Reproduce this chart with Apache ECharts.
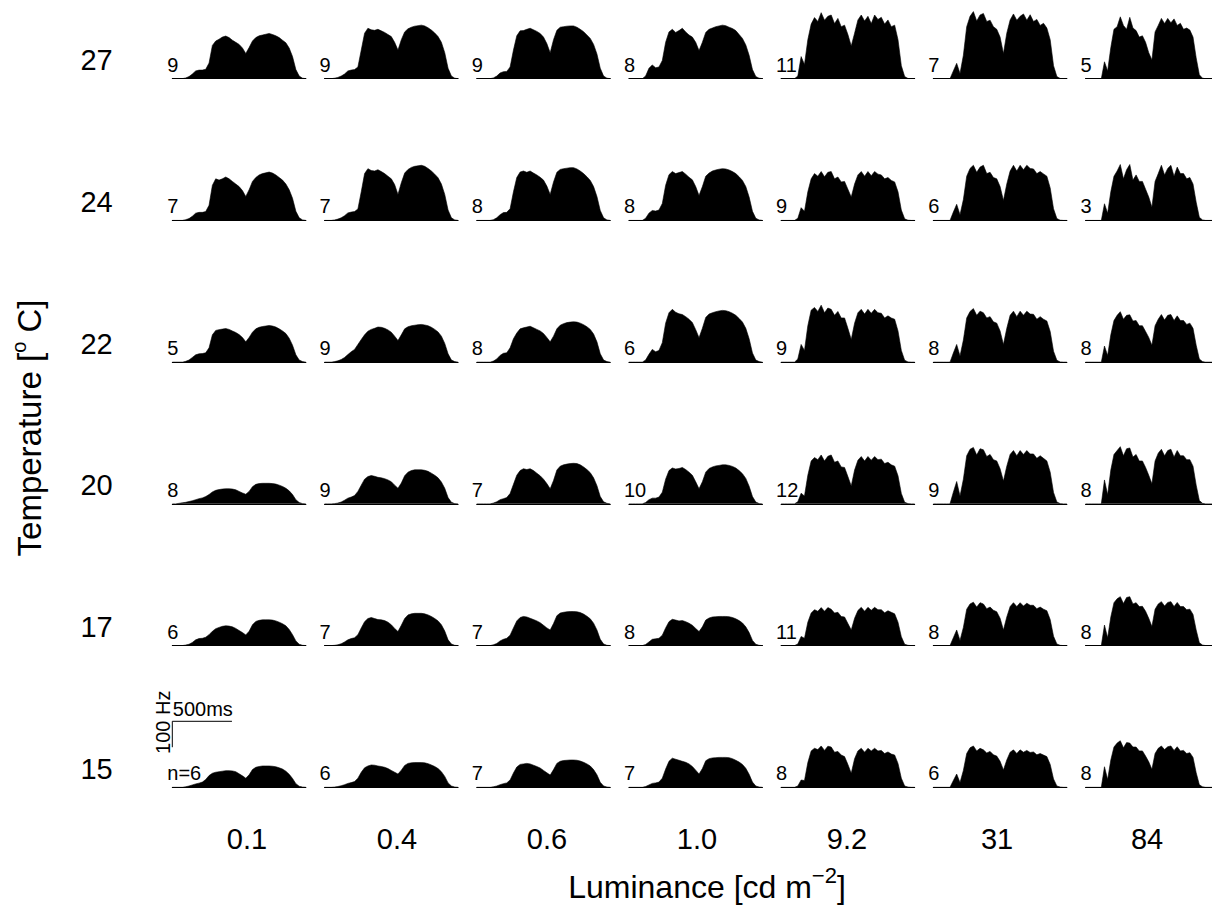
<!DOCTYPE html>
<html>
<head>
<meta charset="utf-8">
<script src="https://cdn.jsdelivr.net/npm/echarts@6/dist/echarts.min.js"></script>
<style>
  html, body { margin: 0; padding: 0; background: #ffffff; }
  #chart { width: 1212px; height: 905px; }
</style>
</head>
<body>
<div id="chart"></div>
<script>
// Peri-stimulus firing rate (Hz) in 28 ms bins over a 1120 ms window,
// one panel per temperature (rows) x luminance (columns).
const luminance = ['0.1', '0.4', '0.6', '1.0', '9.2', '31', '84'];
const temperature = ['27', '24', '22', '20', '17', '15'];
const binMs = 28;
const windowMs = 1120;
const scaleBarMs = 500;
const scaleBarHz = 100;

// number of recorded units per panel
const cells27 = [9, 9, 9, 8, 11, 7, 5];
const cells24 = [7, 7, 8, 8, 9, 6, 3];
const cells22 = [5, 9, 8, 6, 9, 8, 8];
const cells20 = [8, 9, 7, 10, 12, 9, 8];
const cells17 = [6, 7, 7, 8, 11, 8, 8];
const cells15 = [6, 6, 7, 7, 8, 6, 8];

const rate27 = [
  [0,0,0,0,3,8,18,30,33,33,36,60,128,145,152,160,164,158,148,140,132,118,97,120,145,158,165,168,171,174,170,165,158,148,138,118,85,35,10,2,0],
  [0,0,0,2,5,10,18,30,33,35,45,110,175,194,188,186,190,184,178,170,162,140,110,150,180,192,198,202,204,206,203,196,187,176,162,140,100,40,10,2,0],
  [0,0,0,0,0,3,10,22,27,28,45,110,165,184,185,190,194,188,182,174,160,135,100,150,186,198,200,202,203,203,198,190,181,168,155,132,95,40,10,2,0],
  [0,0,0,0,0,10,40,53,42,45,70,140,180,190,178,185,194,180,168,160,140,108,140,178,190,195,200,203,206,204,198,193,185,170,155,130,90,35,8,2,0],
  [0,0,0,0,0,10,85,55,150,210,235,220,254,225,240,245,212,232,200,206,170,126,175,226,245,222,240,212,245,228,236,210,226,200,206,150,50,8,1,0,0],
  [0,0,0,0,0,0,30,59,20,90,200,240,258,222,245,251,220,225,200,190,160,97,175,226,249,225,240,249,225,246,220,228,205,213,195,150,50,8,1,0,0],
  [0,0,0,0,0,0,65,30,120,190,200,238,205,190,236,195,185,160,165,140,100,72,180,205,232,212,232,215,230,205,213,190,195,187,160,80,15,2,0,0,0]
];
const rate24 = [
  [0,0,0,0,3,7,16,28,31,31,34,58,135,160,155,160,167,160,150,140,130,115,92,118,150,165,175,180,183,186,182,175,165,155,140,118,85,35,10,2,0],
  [0,0,0,2,5,10,18,29,32,34,44,110,180,199,192,190,195,188,180,170,160,138,100,145,182,196,204,208,210,212,208,200,190,178,164,140,100,40,10,2,0],
  [0,0,0,0,0,3,10,22,30,31,45,110,165,186,190,185,190,182,175,166,155,132,100,148,185,196,199,201,203,203,198,190,180,168,154,130,92,38,10,2,0],
  [0,0,0,0,0,8,28,38,36,40,65,135,176,188,180,184,188,178,166,156,130,96,130,170,182,190,194,197,199,198,194,188,180,168,154,130,90,35,8,2,0],
  [0,0,0,0,0,8,49,35,110,160,180,170,188,168,185,188,160,167,148,150,120,90,140,175,188,170,188,172,188,178,175,160,165,154,148,110,40,6,1,0,0],
  [0,0,0,0,0,0,32,62,22,80,170,200,212,185,205,212,180,185,165,160,130,77,140,190,212,190,212,195,212,200,198,180,188,179,170,125,45,7,1,0,0],
  [0,0,0,0,0,0,64,28,110,170,190,215,160,195,215,155,175,150,150,120,90,51,150,180,212,175,200,212,170,205,180,180,160,165,140,70,12,2,0,0,0]
];
const rate22 = [
  [0,0,0,0,3,8,18,28,32,33,36,55,105,122,125,127,129,126,120,114,106,95,78,95,115,128,134,137,139,141,139,135,128,120,110,92,65,28,8,2,0],
  [0,0,0,2,5,10,18,29,40,49,68,87,105,119,126,130,135,134,130,124,115,100,83,105,128,136,140,142,144,145,143,140,134,126,116,100,72,32,8,2,0],
  [0,0,0,0,0,4,12,26,34,36,55,90,112,128,132,135,138,132,126,120,110,95,78,100,128,142,148,152,154,155,154,150,144,136,126,108,78,32,8,2,0],
  [0,0,0,0,0,8,30,49,40,45,75,150,190,203,192,186,183,175,165,152,125,94,130,172,185,190,194,197,199,198,194,188,180,168,154,130,90,35,8,2,0],
  [0,0,0,0,0,12,68,45,140,200,210,195,219,190,208,203,180,195,170,170,130,87,150,190,203,185,203,188,203,190,188,170,178,170,165,120,45,7,1,0,0],
  [0,0,0,0,0,0,35,68,24,85,170,195,206,180,196,190,170,175,155,150,120,68,130,180,196,175,196,180,196,185,184,165,175,165,158,118,42,7,1,0,0],
  [0,0,0,0,0,0,62,26,105,160,180,194,165,180,182,158,160,140,140,118,95,65,140,165,183,162,180,183,160,178,160,160,145,150,130,65,12,2,0,0,0]
];
const rate20 = [
  [0,0,2,4,6,9,12,16,20,23,28,36,46,52,55,57,58,58,57,54,48,42,37,48,66,75,78,79,79,79,78,76,72,67,60,50,36,16,5,1,0],
  [0,0,0,1,3,7,14,22,26,32,48,72,95,105,109,106,102,100,97,92,85,72,60,80,108,122,128,131,131,131,129,125,118,110,100,84,60,24,6,1,0],
  [0,0,0,0,0,3,8,16,20,24,40,75,110,128,135,132,135,128,118,108,95,78,58,90,130,145,150,153,155,156,155,150,142,132,120,100,70,28,8,2,0],
  [0,0,0,0,0,5,16,22,22,26,45,95,128,138,134,136,140,132,122,110,85,58,85,122,136,142,146,148,150,150,148,144,138,128,116,98,68,28,7,1,0],
  [0,0,0,0,0,8,41,30,110,165,178,170,188,165,183,188,160,165,142,140,105,69,130,168,182,165,182,168,182,170,172,155,160,150,145,108,40,6,1,0,0],
  [0,0,0,0,0,0,45,86,30,95,185,210,217,188,212,208,182,190,170,165,135,88,145,190,205,185,205,190,205,192,192,175,185,175,165,122,44,7,1,0,0],
  [0,0,0,0,0,0,92,35,130,190,205,220,185,212,215,180,190,165,165,140,110,77,165,195,210,185,205,210,180,205,185,185,170,170,145,72,13,2,0,0,0]
];
const rate17 = [
  [0,0,0,0,2,5,12,22,27,28,32,42,55,65,70,74,76,75,72,66,58,50,41,55,80,93,97,99,99,99,98,95,90,84,76,62,42,18,5,1,0],
  [0,0,0,1,3,7,14,22,27,30,42,68,92,104,108,104,100,99,96,90,80,66,54,78,104,118,122,124,124,124,122,118,112,104,95,80,56,22,6,1,0],
  [0,0,0,0,0,3,8,18,24,28,40,68,95,108,112,110,105,100,95,88,78,68,60,85,115,125,128,130,131,131,130,127,121,113,103,86,60,24,6,1,0],
  [0,0,0,0,0,4,14,24,26,28,40,68,92,101,98,95,96,92,86,78,66,54,72,98,106,110,111,112,112,112,111,108,103,96,87,72,50,20,5,1,0],
  [0,0,0,0,0,6,35,28,90,125,138,132,146,132,146,140,125,128,112,110,85,60,105,135,147,132,147,136,147,138,138,126,134,128,122,90,34,5,1,0,0],
  [0,0,0,0,0,0,30,60,20,70,140,160,167,148,165,160,142,148,136,130,105,60,110,150,165,150,165,152,163,155,155,142,148,140,134,100,36,6,1,0,0],
  [0,0,0,0,0,0,79,30,110,165,180,188,162,185,188,160,165,150,151,132,105,73,140,160,169,152,166,169,150,166,150,150,138,140,120,60,11,2,0,0,0]
];
const rate15 = [
  [0,0,0,0,2,5,9,13,16,20,30,45,54,58,60,62,64,64,63,60,52,44,35,48,68,77,80,82,82,82,81,79,75,70,62,50,34,14,4,1,0],
  [0,0,0,1,3,6,10,15,18,22,35,58,75,82,86,85,82,80,77,72,65,58,51,66,84,92,94,95,95,95,94,91,86,80,72,60,42,17,5,1,0],
  [0,0,0,0,0,2,5,10,14,17,28,55,78,88,90,92,90,85,80,74,65,56,47,68,92,100,103,104,105,105,104,101,96,90,82,68,48,19,5,1,0],
  [0,0,0,0,0,3,9,15,17,20,35,70,100,112,108,104,100,96,90,80,66,51,72,102,110,113,114,115,115,115,114,110,104,97,88,73,50,20,5,1,0],
  [0,0,0,0,0,5,28,26,95,140,150,145,159,142,158,155,135,138,124,118,88,54,110,140,150,135,150,140,150,140,142,130,136,128,124,92,35,5,1,0,0],
  [0,0,0,0,0,0,26,51,18,65,130,152,159,140,150,144,132,138,125,120,100,67,105,135,144,130,144,135,142,134,136,125,130,124,118,88,32,5,1,0,0],
  [0,0,0,0,0,0,79,30,105,155,170,179,152,172,170,155,155,140,140,120,98,69,130,150,159,145,156,159,142,156,140,142,130,133,115,56,10,2,0,0,0]
];

const rates = [rate27, rate24, rate22, rate20, rate17, rate15];
const cells = [cells27, cells24, cells22, cells20, cells17, cells15];

// panel layout (pixels)
const PANEL_X0 = 172.3, PANEL_DX = 152.2, PANEL_W = 133.6;
const BASE_Y0 = 78.7, BASE_DY = 141.72;
const HZ_MAX = 300, PANEL_H = 78;          // 26 px per 100 Hz
const COL_LABEL_X0 = 247, COL_LABEL_DX = 150, COL_LABEL_Y = 839;
const ROW_LABEL_X = 96.5;
const FONT = '"Liberation Sans", Arial, Helvetica, sans-serif';

const grids = [], xAxes = [], yAxes = [], series = [], graphics = [];

function textEl(x, y, text, size, align, extra) {
  return Object.assign({
    type: 'text', x: x, y: y, silent: true,
    style: {
      text: text, fill: '#000', fontSize: size, fontFamily: FONT,
      align: align, verticalAlign: 'middle',
      textAlign: align, textVerticalAlign: 'middle'
    }
  }, extra || {});
}

rates.forEach(function (row, r) {
  const baseY = BASE_Y0 + r * BASE_DY;
  row.forEach(function (vals, c) {
    const k = grids.length;
    const left = PANEL_X0 + c * PANEL_DX;
    grids.push({ left: left, top: baseY - PANEL_H, width: PANEL_W, height: PANEL_H });
    xAxes.push({
      type: 'value', gridIndex: k, min: 0, max: windowMs,
      axisLine: { show: true, onZero: true, lineStyle: { color: '#000', width: 1 } },
      axisTick: { show: false }, axisLabel: { show: false }, splitLine: { show: false }
    });
    yAxes.push({ type: 'value', gridIndex: k, min: 0, max: HZ_MAX, show: false });
    series.push({
      type: 'line', xAxisIndex: k, yAxisIndex: k, silent: true,
      symbol: 'none', smooth: false,
      data: vals.map(function (v, i) { return [i * binMs, v]; }),
      lineStyle: { color: '#000', width: 0.6 },
      areaStyle: { color: '#000', opacity: 1 }
    });
    const label = (r === rates.length - 1 && c === 0 ? 'n=' : '') + cells[r][c];
    graphics.push(textEl(left - 5, baseY - 14, label, 20, 'left'));
  });
  graphics.push(textEl(ROW_LABEL_X, baseY - 18.5, temperature[r], 29, 'center'));
});

luminance.forEach(function (lab, c) {
  graphics.push(textEl(COL_LABEL_X0 + c * COL_LABEL_DX, COL_LABEL_Y, lab, 29, 'center'));
});

// scale bar: 500 ms by 100 Hz, same scales as the panels
const sbBase = BASE_Y0 + 5 * BASE_DY - 40;
const sb = grids.length;
grids.push({ left: PANEL_X0, top: sbBase - PANEL_H, width: PANEL_W, height: PANEL_H });
xAxes.push({ type: 'value', gridIndex: sb, min: 0, max: windowMs, show: false });
yAxes.push({ type: 'value', gridIndex: sb, min: 0, max: HZ_MAX, show: false });
series.push({
  type: 'line', xAxisIndex: sb, yAxisIndex: sb, silent: true, symbol: 'none',
  data: [[scaleBarMs, scaleBarHz], [0, scaleBarHz], [0, 0]],
  lineStyle: { color: '#000', width: 1 }
});
graphics.push(textEl(PANEL_X0 + 0.5, sbBase - 38, scaleBarMs + 'ms', 20, 'left'));
graphics.push(textEl(163, sbBase - 25, scaleBarHz + ' Hz', 20, 'center', { rotation: Math.PI / 2 }));

// axis titles
graphics.push({
  type: 'text', x: 707, y: 887, silent: true,
  style: {
    text: 'Luminance [cd m{sup|\u22122}]', fill: '#000', fontSize: 32, fontFamily: FONT,
    lineHeight: 46, align: 'center', verticalAlign: 'middle',
    textAlign: 'center', textVerticalAlign: 'middle',
    rich: { sup: { fontSize: 22, fontFamily: FONT, fill: '#000', verticalAlign: 'top', lineHeight: 22 } }
  }
});
graphics.push({
  type: 'text', x: 29, y: 428, rotation: Math.PI / 2, silent: true,
  style: {
    text: 'Temperature [{sup|o} C]', fill: '#000', fontSize: 33, fontFamily: FONT,
    lineHeight: 41, align: 'center', verticalAlign: 'middle',
    textAlign: 'center', textVerticalAlign: 'middle',
    rich: { sup: { fontSize: 20, fontFamily: FONT, fill: '#000', verticalAlign: 'top', lineHeight: 20 } }
  }
});

const chart = echarts.init(document.getElementById('chart'), null, { renderer: 'svg', width: 1212, height: 905 });
chart.setOption({
  animation: false,
  backgroundColor: '#ffffff',
  grid: grids,
  xAxis: xAxes,
  yAxis: yAxes,
  series: series,
  graphic: { elements: graphics }
});
</script>
</body>
</html>
